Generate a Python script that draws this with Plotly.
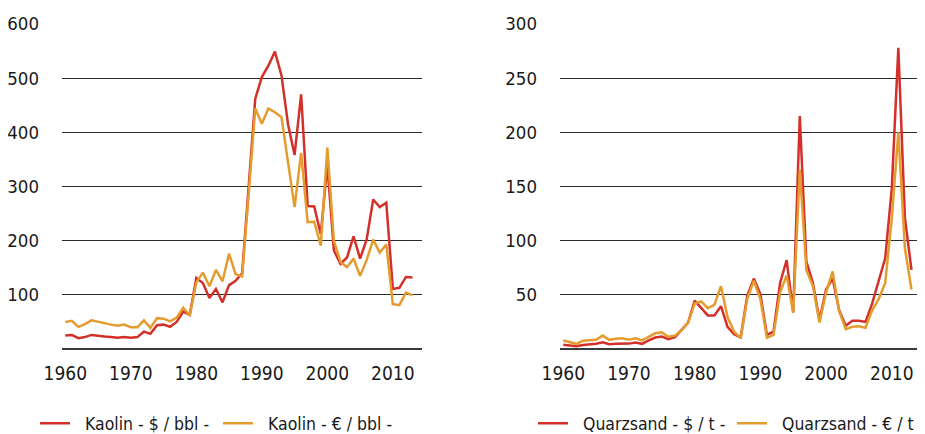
import plotly.graph_objects as go

years = list(range(1960, 2014))

kaolin_usd = [25, 26, 20, 22, 26, 24, 23, 22, 21, 22, 21, 22, 32, 28, 44, 45, 41, 50, 69, 63,
              131, 122, 94, 111, 86, 118, 126, 140, 300, 462, 502, 523, 549, 505, 415, 358,
              470, 264, 263, 212, 340, 182, 157, 169, 208, 167, 202, 276, 262, 270, 111, 113,
              133, 132]
kaolin_eur = [50, 52, 41, 46, 53, 50, 47, 45, 43, 45, 40, 40, 53, 39, 57, 56, 51, 58, 76, 62,
              123, 141, 116, 146, 125, 176, 138, 134, 287, 444, 416, 444, 437, 428, 345, 262,
              362, 234, 235, 191, 372, 200, 161, 151, 167, 135, 164, 202, 178, 193, 83, 81,
              104, 99]

quarz_usd = [4, 3.3, 2.5, 3.8, 4.5, 4.8, 6.3, 4.5, 4.8, 5, 5, 6, 4.8, 8, 10.6, 11.5, 9, 11,
             17.5, 24.4, 44.6, 37.7, 31, 31, 39.5, 20.5, 13.6, 10.8, 49, 65, 50.6, 13, 16, 61,
             82, 34, 215, 80.7, 61, 26.5, 55, 65, 35.5, 21.4, 26, 26, 25, 41.6, 62.7, 83.7,
             148, 278, 121, 73]
quarz_eur = [7.8, 6, 4.8, 7.6, 8, 8.5, 12.4, 8.5, 9.5, 10, 8.5, 10, 8, 11.3, 14.5, 15.4, 11.3,
             12.4, 17.5, 24.4, 42, 44, 37.7, 40.7, 58, 29.5, 16, 10, 46, 63, 46, 10.5, 13, 52,
             68, 33.4, 165.7, 73, 58, 24.4, 52, 71.7, 34.6, 18.4, 20.5, 21, 19.6, 35.5, 46,
             61, 120, 200, 93, 55]

kaolin_ticks = [100, 200, 300, 400, 500, 600]
quarz_ticks = [50, 100, 150, 200, 250, 300]
year_ticks = [1960, 1970, 1980, 1990, 2000, 2010]

RED = "#d3302a"
ORANGE = "#e49c2f"
FONT = "DejaVu Sans Condensed, DejaVu Sans, sans-serif"
NB = "\u00a0\u00a0"

fig = go.Figure()
fig.add_trace(go.Scatter(x=years, y=kaolin_usd, mode="lines", name=NB + "Kaolin - $ / bbl -",
                         line=dict(color=RED, width=2.5), xaxis="x", yaxis="y", legend="legend"))
fig.add_trace(go.Scatter(x=years, y=kaolin_eur, mode="lines", name=NB + "Kaolin - € / bbl -",
                         line=dict(color=ORANGE, width=2.5), xaxis="x", yaxis="y", legend="legend"))
fig.add_trace(go.Scatter(x=years, y=quarz_usd, mode="lines", name=NB + "Quarzsand - $ / t -",
                         line=dict(color=RED, width=2.5), xaxis="x2", yaxis="y2", legend="legend2"))
fig.add_trace(go.Scatter(x=years, y=quarz_eur, mode="lines", name=NB + "Quarzsand - € / t -",
                         line=dict(color=ORANGE, width=2.5), xaxis="x2", yaxis="y2", legend="legend2"))

W, H = 925, 434
common_x = dict(range=[1959.5, 2014.45], tickvals=year_ticks, showgrid=False, showline=False,
                zeroline=False, ticks="", tickfont=dict(family=FONT, size=19, color="#1a1a1a"),
                automargin=False, ticklabelstandoff=10)
common_y = dict(showgrid=True, gridcolor="#2b2b2b", gridwidth=1, zeroline=True,
                zerolinecolor="#3a3a3a", zerolinewidth=1.5, showline=False, ticks="",
                tickfont=dict(family=FONT, size=18.5, color="#1a1a1a"), automargin=False,
                ticklabelstandoff=22, ticklabeloverflow="allow")

fig.update_layout(
    width=W, height=H,
    margin=dict(l=0, r=0, t=15, b=85),
    paper_bgcolor="white", plot_bgcolor="white",
    showlegend=True,
    xaxis=dict(domain=[54 / W, 414 / W], anchor="y", **common_x),
    yaxis=dict(domain=[0, 1], anchor="x", range=[-1.81, 601.81], tickvals=kaolin_ticks, **common_y),
    xaxis2=dict(domain=[552 / W, 913 / W], anchor="y2", **common_x),
    yaxis2=dict(domain=[0, 1], anchor="x2", range=[-0.9, 300.9], tickvals=quarz_ticks, **common_y),
    legend=dict(orientation="h", x=27 / W, xanchor="left", y=-0.2246, yanchor="middle",
                font=dict(family=FONT, size=17.5, color="#1a1a1a"), entrywidth=138,
                entrywidthmode="pixels", bgcolor="rgba(0,0,0,0)", borderwidth=0),
    legend2=dict(orientation="h", x=525 / W, xanchor="left", y=-0.2246, yanchor="middle",
                 font=dict(family=FONT, size=17.5, color="#1a1a1a"), entrywidth=154,
                 entrywidthmode="pixels", bgcolor="rgba(0,0,0,0)", borderwidth=0),
)

fig.write_html("out.html")
